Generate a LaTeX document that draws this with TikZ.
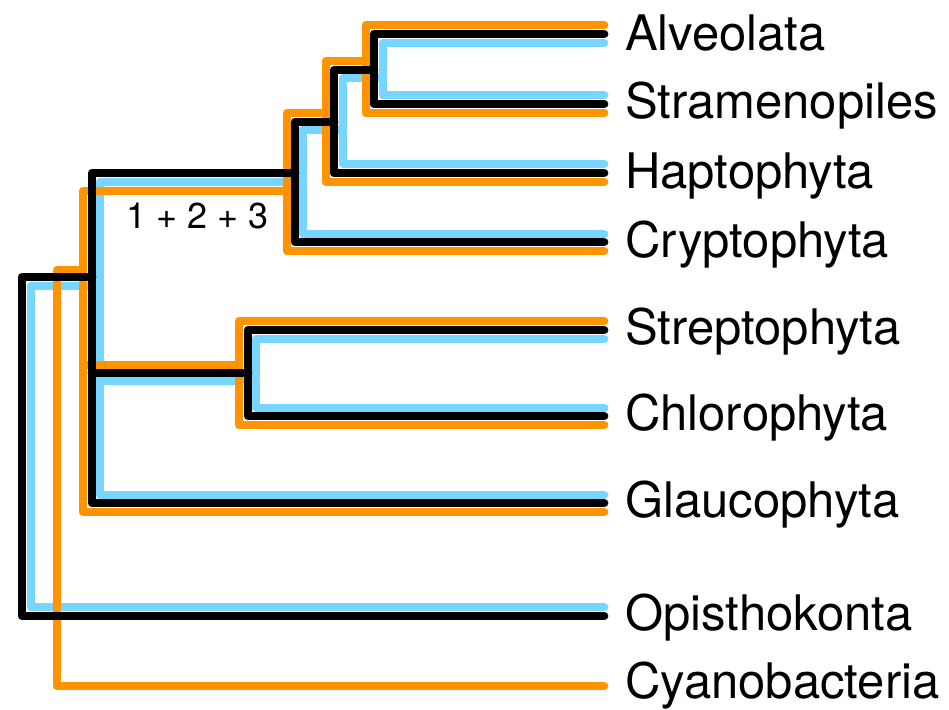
\documentclass[tikz,border=0pt]{standalone}
\usepackage{fontspec}
\setmainfont{TeX Gyre Heros}
\definecolor{treeorange}{RGB}{255,147,0}
\definecolor{treeblue}{RGB}{118,214,255}
\begin{document}
\begin{tikzpicture}[x=1pt,y=-1pt,
  branch/.style={line width=8.8pt,line cap=round,line join=round},
  ob/.style={branch,draw=treeorange},
  bb/.style={branch,draw=treeblue},
  kb/.style={branch,draw=black},
  taxon/.style={anchor=base west,inner sep=0pt,font=\fontsize{49}{56}\selectfont},
  note/.style={anchor=base west,inner sep=0pt,font=\fontsize{36}{42}\selectfont}]
\useasboundingbox (0,0) rectangle (949,709);
% blue tree (bottom layer)
\draw[bb] (604,607) -- (31,607) -- (31,286) -- (100,286);
\draw[bb] (303,182) -- (100,182) -- (100,495) -- (604,495);
\draw[bb] (100,381) -- (256,381);
\draw[bb] (604,339) -- (256,339) -- (256,408) -- (604,408);
\draw[bb] (343,130) -- (303,130) -- (303,234) -- (604,234);
\draw[bb] (383,78) -- (343,78) -- (343,164) -- (604,164);
\draw[bb] (604,43) -- (383,43) -- (383,95) -- (604,95);
% orange tree
\draw[ob] (604,686) -- (57,686) -- (57,270) -- (83,270);
\draw[ob] (287,191) -- (83,191) -- (83,512) -- (604,512);
\draw[ob] (83,365) -- (239,365);
\draw[ob] (604,321) -- (239,321) -- (239,425) -- (604,425);
\draw[ob] (326,113) -- (287,113) -- (287,251) -- (604,251);
\draw[ob] (366,61) -- (326,61) -- (326,182) -- (604,182);
\draw[ob] (604,25) -- (366,25) -- (366,113) -- (604,113);
% black tree (top layer)
\draw[kb] (604,616) -- (22,616) -- (22,277) -- (92,277);
\draw[kb] (295,173) -- (92,173) -- (92,503) -- (604,503);
\draw[kb] (92,373) -- (248,373);
\draw[kb] (604,330) -- (248,330) -- (248,416) -- (604,416);
\draw[kb] (334,122) -- (295,122) -- (295,242) -- (604,242);
\draw[kb] (374,70) -- (334,70) -- (334,173) -- (604,173);
\draw[kb] (604,34) -- (374,34) -- (374,104) -- (604,104);
% labels
\node[taxon] (alv) at (625,50) {Alveolata};
\node[taxon] (str) at (625,118) {Stramenopiles};
\node[taxon] (hap) at (625,188) {Haptophyta};
\node[taxon] (cry) at (625,257) {Cryptophyta};
\node[taxon] (stp) at (625,344) {Streptophyta};
\node[taxon] (chl) at (625,430) {Chlorophyta};
\node[taxon] (gla) at (625,517) {Glaucophyta};
\node[taxon] (opi) at (625,630) {Opisthokonta};
\node[taxon] (cya) at (625,698) {Cyanobacteria};
\node[note] (num) at (126,228) {1 + 2 + 3};
\end{tikzpicture}
\end{document}
